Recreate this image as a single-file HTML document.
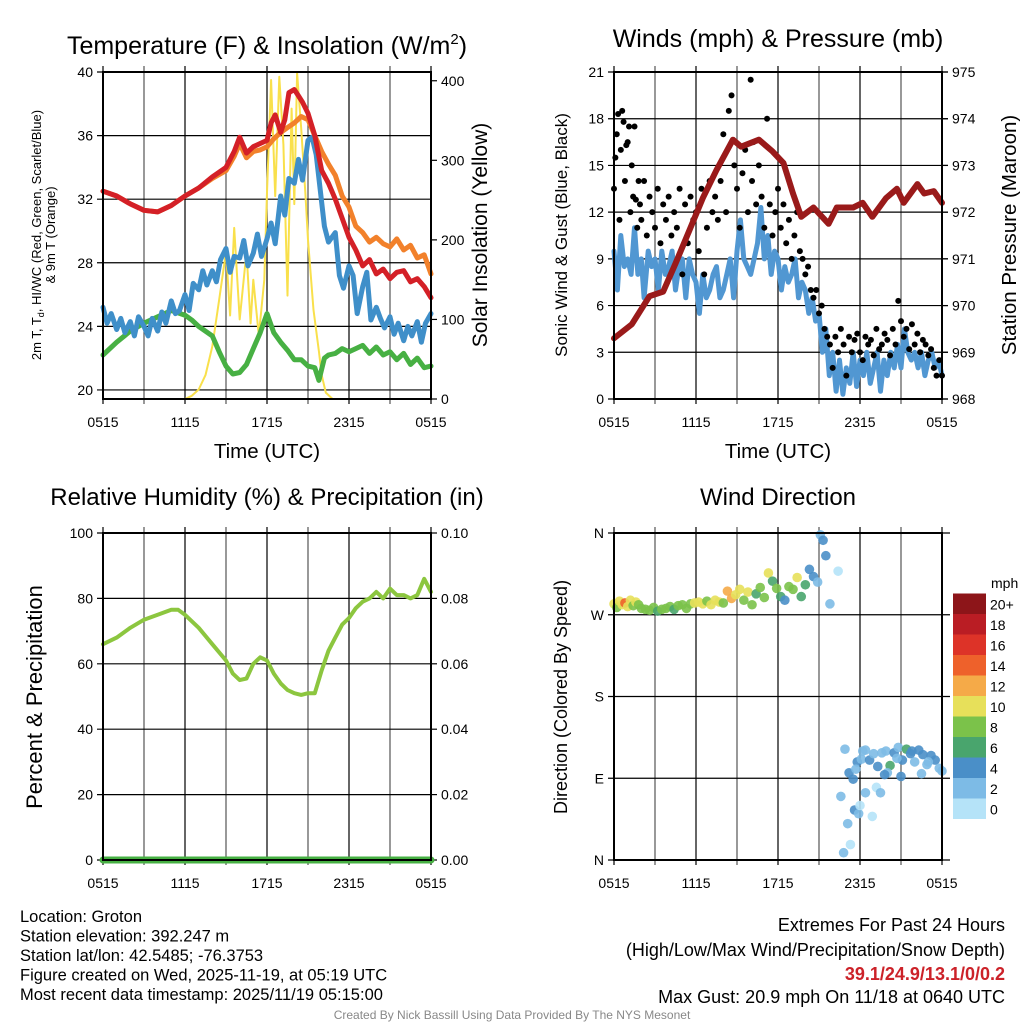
<!DOCTYPE html>
<html><head><meta charset="utf-8"><style>
body{margin:0;background:#fff}
svg{display:block;font-family:"Liberation Sans",sans-serif}
</style></head><body>
<svg id="c" width="1024" height="1024" viewBox="0 0 1024 1024" xmlns="http://www.w3.org/2000/svg"></svg>
<script>
// ---------- data ----------
const xTickLabels = ["0515","1115","1715","2315","0515"];
const tempTicks = [20,24,28,32,36,40];
const solarTicks = [0,100,200,300,400];
const windTicks = [0,3,6,9,12,15,18,21];
const presTicks = [968,969,970,971,972,973,974,975];
const rhTicks = [0,20,40,60,80,100];
const precipTicks = ["0.00","0.02","0.04","0.06","0.08","0.10"];
const dirTicks = ["N","E","S","W","N"];
const speedBins = ["0","2","4","6","8","10","12","14","16","18","20+"];
const speedColors = ["#b5e3f8","#7dbbe6","#4a8fc8","#49a56d","#7bc24a","#e7e05a","#f5aa48","#ee612b","#dd3328","#ba1d24","#8d1519"];

// [hours since 0515, value]
const redTemp = [[0,32.5],[1,32.2],[2,31.7],[3,31.3],[4,31.2],[5,31.6],[6,32.2],[7,32.7],[8,33.4],[9,34.0],[9.6,35.0],[10,35.9],[10.5,34.9],[11,35.3],[11.5,35.5],[12,35.7],[12.3,36.8],[12.6,37.3],[13,36.2],[13.3,37.0],[13.6,38.7],[14,38.9],[14.3,38.5],[14.6,38.1],[15,37.4],[15.5,36.0],[16,33.8],[16.5,33.0],[17,32.0],[17.5,30.8],[18,29.6],[18.5,28.8],[19,27.8],[19.5,28.2],[20,27.3],[20.5,27.6],[21,27.0],[21.5,27.4],[22,27.5],[22.5,26.8],[23,27.0],[23.5,26.5],[24,25.8]];
const orangeTemp = [[0,32.5],[1,32.2],[2,31.7],[3,31.3],[4,31.2],[5,31.6],[6,32.2],[7,32.7],[8,33.3],[9,33.8],[9.6,34.7],[10,35.5],[10.5,34.6],[11,35.0],[11.5,35.1],[12,35.3],[12.5,35.8],[13,36.2],[13.5,36.5],[14,36.8],[14.5,37.2],[15,37.0],[15.5,36.0],[16,35.0],[16.5,34.2],[17,33.5],[17.5,32.2],[18,31.5],[18.5,30.3],[19,29.9],[19.5,29.3],[20,29.6],[20.5,29.2],[21,29.0],[21.5,29.5],[22,28.8],[22.5,29.1],[23,28.3],[23.5,28.5],[24,27.3]];
const blueTemp = [[0,25.2],[0.3,24.2],[0.6,24.8],[1,23.8],[1.3,24.5],[1.6,23.6],[2,24.3],[2.3,23.4],[2.6,24.6],[3,24.0],[3.3,23.4],[3.6,24.5],[4,23.7],[4.3,24.9],[4.6,24.2],[5,25.6],[5.3,24.8],[5.6,25.0],[6,26.0],[6.3,25.0],[6.6,26.7],[7,26.3],[7.3,27.5],[7.6,26.6],[8,27.5],[8.3,26.8],[8.6,28.2],[9,28.9],[9.3,27.4],[9.6,28.4],[10,28.3],[10.3,29.4],[10.6,27.8],[11,28.6],[11.3,29.8],[11.6,28.4],[12,29.5],[12.3,30.5],[12.6,29.2],[13,32.2],[13.3,31.0],[13.6,33.3],[14,33.0],[14.3,34.5],[14.6,33.2],[15,35.7],[15.3,35.9],[15.6,34.8],[16.2,30.3],[16.5,29.3],[17,29.9],[17.3,27.2],[17.6,26.4],[18,27.8],[18.3,27.2],[18.6,24.8],[19,26.5],[19.3,27.4],[19.6,24.4],[20,25.2],[20.3,24.5],[20.6,23.9],[21,24.6],[21.3,23.5],[21.6,24.2],[22,23.1],[22.3,24.0],[22.6,23.4],[23,24.3],[23.3,23.0],[23.6,24.2],[24,24.8]];
const greenTemp = [[0,22.2],[1,23.0],[2,23.7],[3,24.2],[4,24.6],[5,25.0],[6,24.7],[6.5,24.4],[7,24.0],[8,23.4],[8.5,22.4],[9,21.5],[9.5,21.0],[10,21.1],[10.5,21.6],[11,22.6],[11.5,23.6],[12,24.8],[12.5,23.6],[13,23.0],[13.5,22.5],[14,21.9],[14.5,21.9],[15,21.5],[15.5,21.4],[15.8,20.6],[16.2,22.0],[16.5,22.2],[17,22.3],[17.5,22.6],[18,22.4],[18.5,22.6],[19,22.8],[19.5,22.3],[20,22.7],[20.5,22.2],[21,22.4],[21.5,21.9],[22,22.3],[22.5,21.6],[23,22.0],[23.5,21.4],[24,21.5]];
const solar = [[0,0],[6,0],[6.5,4],[7,12],[7.5,30],[8,66],[8.5,125],[9,185],[9.3,105],[9.6,215],[10,100],[10.5,185],[10.8,95],[11,150],[11.4,80],[11.8,150],[12.0,260],[12.3,401],[12.6,255],[12.9,405],[13.2,320],[13.5,130],[13.8,365],[14.0,245],[14.2,410],[14.5,340],[14.8,260],[15,200],[15.4,112],[15.8,60],[16,30],[16.3,8],[16.8,0],[24,0]];
const pressure = [[0,969.3],[1.3,969.6],[2.6,970.2],[3.6,970.3],[4.5,970.9],[5.5,971.6],[6.5,972.3],[7.5,972.9],[8.7,973.55],[9.3,973.4],[10.6,973.55],[11.6,973.3],[12.4,973.05],[13.1,972.4],[13.7,971.9],[14.6,972.1],[15.7,971.75],[16.3,972.1],[17.5,972.1],[18.2,972.2],[18.9,971.9],[19.9,972.3],[20.7,972.5],[21.2,972.2],[22.2,972.6],[22.7,972.4],[23.4,972.45],[24,972.2]];
const sonicWind = [[0,9.5],[0.25,7],[0.5,10.5],[0.75,8.5],[1,9],[1.25,8],[1.5,11],[1.75,8],[2,9],[2.2,6.5],[2.5,9.5],[2.75,8.5],[3,9],[3.25,7],[3.5,9.5],[3.75,8],[4,8.5],[4.25,9.5],[4.5,7],[4.75,8.5],[5,9],[5.25,6.5],[5.5,9],[5.75,8],[6,7.5],[6.25,5.5],[6.5,8],[6.75,6.5],[7,7],[7.25,8],[7.5,8.5],[7.75,6.5],[8,7],[8.25,8],[8.5,9],[8.75,6.5],[9,9.5],[9.25,11.5],[9.5,9],[9.75,8.5],[10,8],[10.25,9],[10.5,10],[10.75,12.3],[11,9],[11.25,10.5],[11.5,8],[11.75,9.5],[12,9],[12.25,7],[12.5,8.5],[12.75,7.5],[13,8],[13.25,9],[13.5,6.5],[13.75,7.5],[14,7],[14.25,5.5],[14.5,6.5],[14.75,5],[15,5.5],[15.25,3],[15.5,4.5],[15.75,1.5],[16,3],[16.25,0.5],[16.5,2.5],[16.75,0.3],[17,2],[17.25,1],[17.5,3],[17.75,0.8],[18,2.5],[18.25,1.5],[18.5,3],[18.75,1],[19,2],[19.25,3],[19.5,0.5],[19.75,2.5],[20,1.5],[20.25,3],[20.5,2],[20.75,3.5],[21,2],[21.25,4.5],[21.5,3],[21.75,2.5],[22,3],[22.25,2],[22.5,3],[22.75,1.5],[23,2.5],[23.25,3],[23.5,2],[23.75,2.5],[24,1.5]];
const gusts = [[0,13.5],[0.1,15.5],[0.2,17],[0.3,18.3],[0.4,11.5],[0.5,16],[0.6,18.5],[0.7,17.8],[0.8,14],[0.9,16.3],[1,16.5],[1.1,17.5],[1.2,12],[1.3,15],[1.4,13],[1.5,17.5],[1.6,12.8],[1.7,11],[1.8,14],[1.9,12.5],[2,11.5],[2.2,14],[2.4,10.5],[2.6,13],[2.8,12],[3,11],[3.2,13.5],[3.4,10],[3.6,12.5],[3.8,11.5],[4,13],[4.2,10.5],[4.4,12],[4.6,11],[4.8,13.5],[5,8],[5.2,12.5],[5.4,10],[5.6,13],[5.8,11.5],[6,12],[6.2,9.5],[6.4,13.5],[6.6,8],[6.8,11],[7,14],[7.2,12],[7.4,13],[7.6,11.5],[7.8,14],[8,17],[8.2,12],[8.4,18.5],[8.6,19.5],[8.8,15],[9,13.5],[9.2,11],[9.4,14.5],[9.6,16],[9.8,12],[10,20.5],[10.1,14],[10.2,16.5],[10.4,12.5],[10.6,15],[10.8,13],[11,11],[11.2,18],[11.4,12.5],[11.6,10.5],[11.8,12],[12,13.5],[12.2,11],[12.4,12.5],[12.6,10],[12.8,11.5],[13,9],[13.2,10.5],[13.4,12],[13.6,9.5],[13.8,9],[14,8],[14.2,8.5],[14.4,7],[14.6,6.5],[14.8,7],[15,5.5],[15.2,6],[15.4,4.5],[15.6,4],[15.8,3.5],[16,2],[16.2,4],[16.4,3],[16.6,4.5],[16.8,3.5],[17,1.5],[17.2,4],[17.4,3],[17.6,3.8],[17.8,4.2],[18,3],[18.2,2.5],[18.4,4],[18.6,3.5],[18.8,3.8],[19,2.8],[19.2,4.5],[19.4,3.2],[19.6,3.5],[19.8,4.2],[20,3.8],[20.2,2.8],[20.4,4.5],[20.6,3.5],[20.8,6.3],[21,5],[21.2,4],[21.4,4.5],[21.6,3.2],[21.8,4.8],[22,3.5],[22.2,4.2],[22.4,3],[22.6,3.8],[22.8,3.5],[23,2.8],[23.2,3.2],[23.4,2],[23.6,1.5],[23.8,2.5],[24,1.5]];
const humidity = [[0,66],[1,68],[2,71],[3,73.5],[4,75],[5,76.5],[5.5,76.5],[6,75],[7,71],[8,66],[9,61],[9.5,57],[10,55],[10.5,55.5],[11,60],[11.5,62],[12,61],[12.5,57],[13,54],[13.5,52],[14,51],[14.5,50.5],[15,51],[15.5,51],[16,58],[16.5,64],[17,68],[17.5,72],[18,74],[18.5,77],[19,79],[19.5,80],[20,82],[20.5,80],[21,83],[21.5,81],[22,81],[22.5,80],[23,81],[23.5,86],[24,82]];
const precip = [[0,0],[24,0]];
// [hours, direction deg, speed mph]
const windDir = [[0,282,9],[0.2,278,8],[0.4,285,10],[0.6,281,9],[0.8,283,13],[1,279,9],[1.2,286,10],[1.4,280,8],[1.6,284,9],[1.8,281,7],[2,277,8],[2.3,276,8],[2.6,275,7],[2.9,278,8],[3.2,274,6],[3.5,276,7],[3.8,277,7],[4.1,279,8],[4.4,276,6],[4.7,280,8],[5,281,7],[5.3,277,8],[5.6,282,7],[5.9,283,9],[6.2,284,9],[6.5,282,10],[6.8,285,8],[7.1,281,9],[7.4,286,10],[7.7,284,9],[8,283,8],[8.3,296,11],[8.6,288,12],[8.9,292,10],[9.2,298,9],[9.5,286,7],[9.8,295,9],[10.1,281,8],[10.4,293,6],[10.7,300,8],[11,289,7],[11.3,316,9],[11.6,307,6],[11.9,299,8],[12.2,290,5],[12.5,286,4],[12.8,301,8],[13.1,298,7],[13.4,311,9],[13.7,290,6],[14,303,5],[14.3,320,4],[14.6,312,4],[14.9,306,2],[15.1,358,2],[15.3,352,4],[15.5,335,3],[15.8,282,1],[16.4,318,0],[16.9,122,2],[17.2,96,3],[17.5,89,4],[17.8,108,3],[18.1,111,2],[18.4,121,1],[18.7,110,3],[19.0,117,2],[19.3,103,4],[19.6,118,2],[19.9,120,2],[20.2,104,5],[20.5,118,3],[20.8,124,2],[21.1,110,3],[21.4,122,5],[21.7,117,3],[22.0,108,2],[22.3,121,4],[22.6,116,3],[22.9,105,2],[23.2,115,3],[23.5,110,3],[23.8,101,2],[24,98,1],[16.8,8,1],[17.1,40,2],[17.3,17,0],[17.6,55,3],[17.9,51,1],[18.4,74,1],[19.2,80,0],[19.5,74,1],[16.6,70,2],[18.0,60,0],[18.9,48,0],[21.0,92,4],[22.5,95,2],[17.7,100,2],[18.2,120,1],[20.0,96,2],[20.7,112,2],[21.8,120,4],[23.0,108,2],[19.8,94,3]];

// ---------- helpers ----------
const svg = document.getElementById('c');
const NS = "http://www.w3.org/2000/svg";
function el(tag, attrs, parent){const e=document.createElementNS(NS,tag);for(const k in attrs)e.setAttribute(k,attrs[k]);(parent||svg).appendChild(e);return e;}
function txt(x,y,s,size,anchor,extra){const t=el('text',Object.assign({x:x,y:y,'font-size':size,'text-anchor':anchor||'middle',fill:'#000'},extra||{}));t.textContent=s;return t;}
function mkScale(d0,d1,r0,r1){return v=>r0+(v-d0)/(d1-d0)*(r1-r0);}

function panel(cfg){
  const g=el('g',{});
  
  
  const {x0,x1,y0,y1}=cfg;
  for(let h=0;h<=24;h+=3){const x=x0+(x1-x0)*h/24;
    const l=el('line',{x1:x,x2:x,y1:y0-6,y2:y1+5,stroke:h%6===0?'#000':'#555','stroke-width':1.2},g);
    }
  cfg.leftTicks.forEach((v,i)=>{const y=cfg.ly(v);
    const l=el('line',{x1:x0-6,x2:x1+(cfg.gridRight||0),y1:y,y2:y,stroke:'#000','stroke-width':1.2},g);
    
    const t=txt(x0-10,y+5,cfg.leftLabels?cfg.leftLabels[i]:String(v),14,'end');
    });
  if(cfg.rightTicks){cfg.rightTicks.forEach((v,i)=>{const y=cfg.ry(v);
    el('line',{x1:x1,x2:x1+6,y1:y,y2:y,stroke:'#000','stroke-width':1.2},g);
    const t=txt(x1+10,y+5,cfg.rightLabels?cfg.rightLabels[i]:String(v),14,'start');
    });}
  xTickLabels.forEach((s,i)=>{const t=txt(x0+(x1-x0)*i/4,y1+28,s,14,'middle');
    });
  return g;
}
function frame(cfg){const r=el('rect',{x:cfg.x0,y:cfg.y0,width:cfg.x1-cfg.x0,height:cfg.y1-cfg.y0,fill:'none',stroke:'#000','stroke-width':2});
  }
function line(pts,xs,ys,color,w,name){let d='';pts.forEach((p,i)=>{d+=(i?'L':'M')+xs(p[0]).toFixed(1)+','+ys(p[1]).toFixed(1);});
  const p=el('path',{d:d,fill:'none',stroke:color,'stroke-width':w,'stroke-linejoin':'round','stroke-linecap':'round'});
  return p;}

// ---------- panel 1: temperature ----------
const P1={x0:103,x1:431,y0:72,y1:399,name:'temperature-panel'};
P1.ly=mkScale(19.43,40,399,72);P1.ry=mkScale(0,411,399,72);
P1.leftTicks=tempTicks;P1.rightTicks=solarTicks;
panel(P1);
const x1s=mkScale(0,24,P1.x0,P1.x1);
line(solar,x1s,P1.ry,'#f9e04b',2,'solar-insolation-line');
line(greenTemp,x1s,P1.ly,'#47b043',5,'dewpoint-line');
line(blueTemp,x1s,P1.ly,'#3f8fc9',5,'windchill-line');
line(orangeTemp,x1s,P1.ly,'#f2812b',5,'temp-9m-line');
line(redTemp,x1s,P1.ly,'#d42027',5,'temp-2m-line');
frame(P1);

// ---------- panel 2: wind ----------
const P2={x0:614,x1:942,y0:72,y1:399,name:'wind-panel'};
P2.ly=mkScale(0,21,399,72);P2.ry=mkScale(968,975,399,72);
P2.leftTicks=windTicks;P2.rightTicks=presTicks;P2.gridRight=6;
panel(P2);
const x2s=mkScale(0,24,P2.x0,P2.x1);
line(sonicWind,x2s,P2.ly,'#5197d2',5,'sonic-wind-line');
gusts.forEach(p=>{const c=el('circle',{cx:x2s(p[0]),cy:P2.ly(p[1]),r:3,fill:'#000'});
  });
line(pressure,x2s,P2.ry,'#9a1a1a',6,'pressure-line');
frame(P2);

// ---------- panel 3: RH ----------
const P3={x0:103,x1:431,y0:533,y1:860,name:'humidity-panel'};
P3.ly=mkScale(0,100,860,533);P3.ry=mkScale(0,0.1,860,533);
P3.leftTicks=rhTicks;
P3.rightTicks=[0,0.02,0.04,0.06,0.08,0.10];P3.rightLabels=precipTicks;
panel(P3);
const x3s=mkScale(0,24,P3.x0,P3.x1);
line(humidity,x3s,P3.ly,'#8cc63f',4,'humidity-line');
line(precip,x3s,P3.ry,'#47b043',7,'precipitation-line');
frame(P3);

// ---------- panel 4: wind direction ----------
const P4={x0:614,x1:942,y0:533,y1:860,name:'wind-direction-panel'};
P4.ly=mkScale(0,360,860,533);
P4.leftTicks=[0,90,180,270,360];P4.leftLabels=dirTicks;P4.gridRight=8;
panel(P4);
const x4s=mkScale(0,24,P4.x0,P4.x1);
function sc(s){return speedColors[Math.min(10,Math.floor((s+1)/2))];}
windDir.forEach(p=>{const c=el('circle',{cx:x4s(p[0]),cy:P4.ly(p[1]),r:4.8,fill:sc(p[2]),'fill-opacity':0.9});
  });
frame(P4);
speedBins.forEach((s,i)=>{const y=819-(i+1)*20.5;
  const r=el('rect',{x:953,y:y,width:33,height:20.5,fill:speedColors[i]});
  
  const t=txt(990,y+16,s,14,'start');});
{const t=txt(991,588,'mph',14,'start');}

// ---------- titles ----------
function T(x,y,s,size,name,extra){const t=txt(x,y,s,size,'middle',extra);return t;}
{const t=T(267,54,'',25,'temperature-title');t.innerHTML='Temperature (F) &amp; Insolation (W/m<tspan font-size="15" dy="-10">2</tspan><tspan dy="10">)</tspan>';}
T(778,47,'Winds (mph) & Pressure (mb)',25,'wind-title');
T(267,505,'Relative Humidity (%) & Precipitation (in)',24,'humidity-title');
T(778,505,'Wind Direction',24,'direction-title');
T(267,458,'Time (UTC)',20.5,'x-axis-title');
T(778,458,'Time (UTC)',20.5,'x-axis-title');
{const t=T(0,0,'',13,'temperature-y-title',{transform:'translate(41,235) rotate(-90)'});t.innerHTML='2m T, T<tspan font-size="9" dy="3">d</tspan><tspan dy="-3">, HI/WC (Red, Green, Scarlet/Blue)</tspan>';}
T(0,0,'& 9m T (Orange)',13,'temperature-y-title-2',{transform:'translate(55,235) rotate(-90)'});
T(0,0,'Solar Insolation (Yellow)',21,'solar-y-title',{transform:'translate(487,235) rotate(-90)'});
T(0,0,'Sonic Wind & Gust (Blue, Black)',17,'wind-y-title',{transform:'translate(567,235) rotate(-90)'});
T(0,0,'Station Pressure (Maroon)',20.5,'pressure-y-title',{transform:'translate(1016,235) rotate(-90)'});
T(0,0,'Percent & Precipitation',22,'humidity-y-title',{transform:'translate(42,697) rotate(-90)'});
T(0,0,'Direction (Colored By Speed)',18,'direction-y-title',{transform:'translate(567,697) rotate(-90)'});

// ---------- footer ----------
const info=["Location: Groton","Station elevation: 392.247 m","Station lat/lon: 42.5485; -76.3753","Figure created on Wed, 2025-11-19, at 05:19 UTC","Most recent data timestamp: 2025/11/19 05:15:00"];
info.forEach((s,i)=>{const t=txt(20,922+i*19.5,s,16.5,'start');});
const ext=[["Extremes For Past 24 Hours",931,'#000','normal'],["(High/Low/Max Wind/Precipitation/Snow Depth)",956,'#000','normal'],["39.1/24.9/13.1/0/0.2",980,'#cc2229','bold'],["Max Gust: 20.9 mph On 11/18 at 0640 UTC",1003,'#000','normal']];
ext.forEach(e=>{const t=txt(1005,e[1],e[0],18,'end',{fill:e[2],'font-weight':e[3]});});
{const t=txt(512,1019,'Created By Nick Bassill Using Data Provided By The NYS Mesonet',12,'middle',{fill:'#888'});}
</script>
</body></html>
